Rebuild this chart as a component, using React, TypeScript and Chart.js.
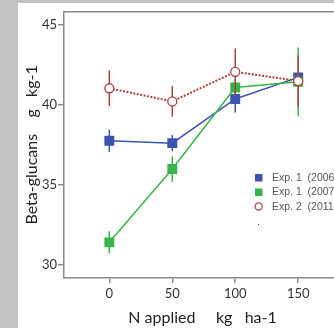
import React, { useEffect, useRef } from 'react';
import { Chart, registerables } from 'chart.js';

Chart.register(...registerables);

const nLevels = [0, 50, 100, 150];
const exp1_2006 = [37.77, 37.62, 40.38, 41.73];
const exp1_2006Err = [0.7, 0.5, 0.84, 0.3];
const exp1_2007 = [31.42, 36.0, 41.1, 41.45];
const exp1_2007Err = [0.7, 0.8, 0.5, 2.15];
const exp2_2011 = [41.05, 40.23, 42.08, 41.5];
const exp2_2011Err = [1.12, 0.95, 1.46, 1.6];
const seriesLabels = ['Exp. 1  (2006)', 'Exp. 1  (2007)', 'Exp. 2  (2011)'];
const xTicks = [0, 50, 100, 150];
const yTicks = [30, 35, 40, 45];

const BLUE = '#3B54B0';
const GREEN = '#38B449';
const RED = '#A8423E';
const AXIS = '#8a8a8a';

const errorBarPlugin = {
  id: 'errorBars',
  beforeDatasetDraw(chart: any, args: any) {
    const ds = chart.data.datasets[args.index];
    const errs = ds.errors as number[];
    if (!errs) return;
    const { ctx, scales } = chart;
    ctx.save();
    ctx.strokeStyle = ds.errColor;
    ctx.lineWidth = 1.5;
    ds.data.forEach((p: any, i: number) => {
      const x = scales.x.getPixelForValue(p.x);
      const y1 = scales.y.getPixelForValue(p.y - errs[i]);
      const y2 = scales.y.getPixelForValue(p.y + errs[i]);
      ctx.beginPath();
      ctx.moveTo(x, y1);
      ctx.lineTo(x, y2);
      ctx.stroke();
    });
    ctx.restore();
  },
};

const framePlugin = {
  id: 'frameTop',
  beforeDatasetsDraw(chart: any) {
    const { ctx, chartArea } = chart;
    ctx.save();
    ctx.strokeStyle = AXIS;
    ctx.lineWidth = 1.5;
    ctx.beginPath();
    ctx.moveTo(chartArea.left, chartArea.top);
    ctx.lineTo(chartArea.right, chartArea.top);
    ctx.stroke();
    ctx.restore();
  },
};

const legendPlugin = {
  id: 'customLegend',
  afterDraw(chart: any) {
    const { ctx } = chart;
    const x0 = 237;
    const y0 = 174.5;
    const gap = 14.5;
    ctx.save();
    ctx.font = '10.5px "Liberation Sans", Arial, sans-serif';
    ctx.textBaseline = 'middle';
    seriesLabels.forEach((t, i) => {
      const y = y0 + i * gap;
      if (i === 0 || i === 1) {
        ctx.fillStyle = i === 0 ? BLUE : GREEN;
        ctx.fillRect(x0, y - 3.5, 7.5, 7.5);
      } else {
        ctx.beginPath();
        ctx.strokeStyle = RED;
        ctx.lineWidth = 1.2;
        ctx.arc(x0 + 3.7, y, 3.6, 0, Math.PI * 2);
        ctx.stroke();
      }
      ctx.fillStyle = '#555555';
      ctx.fillText(t, x0 + 17, y + 0.5);
    });
    ctx.fillStyle = BLUE;
    ctx.fillRect(x0 + 3, y0 + 3 * gap + 3, 1, 1);
    ctx.restore();
  },
};

export default function App() {
  const ref = useRef<HTMLCanvasElement | null>(null);

  useEffect(() => {
    if (!ref.current) return;
    const mk = (vals: number[]) => nLevels.map((x, i) => ({ x, y: vals[i] }));
    const chart = new Chart(ref.current, {
      type: 'line',
      data: {
        datasets: [
          {
            label: seriesLabels[0],
            data: mk(exp1_2006),
            errors: exp1_2006Err,
            errColor: BLUE,
            borderColor: BLUE,
            backgroundColor: BLUE,
            borderWidth: 1.5,
            pointStyle: 'rect',
            pointRadius: 7,
            pointBorderWidth: 0,
            pointBackgroundColor: BLUE,
            order: 2,
          } as any,
          {
            label: seriesLabels[1],
            data: mk(exp1_2007),
            errors: exp1_2007Err,
            errColor: GREEN,
            borderColor: GREEN,
            backgroundColor: GREEN,
            borderWidth: 1.5,
            pointStyle: 'rect',
            pointRadius: 7,
            pointBorderWidth: 0,
            pointBackgroundColor: GREEN,
            order: 1,
          } as any,
          {
            label: seriesLabels[2],
            data: mk(exp2_2011),
            errors: exp2_2011Err,
            errColor: RED,
            borderColor: RED,
            backgroundColor: '#ffffff',
            borderWidth: 2,
            borderDash: [2, 1.5],
            pointStyle: 'circle',
            pointRadius: 4.5,
            pointBorderWidth: 1.3,
            pointBackgroundColor: '#ffffff',
            pointBorderColor: RED,
            order: 0,
          } as any,
        ],
      },
      options: {
        responsive: false,
        animation: false,
        layout: { padding: { left: 0, right: 0, top: 8, bottom: 0 } },
        plugins: {
          legend: { display: false },
          tooltip: { enabled: false },
        },
        scales: {
          x: {
            type: 'linear',
            min: -36,
            max: 184,
            afterBuildTicks: (s: any) => {
              s.ticks = xTicks.map((v) => ({ value: v }));
            },
            afterFit: (s: any) => {
              s.height = 50;
            },
            border: { color: AXIS, width: 1.5 },
            grid: { drawOnChartArea: false, drawTicks: true, tickLength: 5, color: AXIS, lineWidth: 1.5 },
            ticks: {
              padding: 3,
              color: '#333333',
              font: { family: 'Lato, "Open Sans", sans-serif', size: 13 },
              maxRotation: 0,
            },
            title: {
              display: true,
              text: 'N applied     kg   ha-1',
              color: '#222222',
              font: { family: 'Lato, "Open Sans", sans-serif', size: 16 },
              padding: { top: 0, bottom: 0.4 },
            },
          },
          y: {
            type: 'linear',
            min: 29.19,
            max: 45.83,
            afterBuildTicks: (s: any) => {
              s.ticks = yTicks.map((v) => ({ value: v }));
            },
            afterFit: (s: any) => {
              s.width = 46;
            },
            border: { color: AXIS, width: 1.5 },
            grid: { drawOnChartArea: false, drawTicks: true, tickLength: 6, color: AXIS, lineWidth: 1.5 },
            ticks: {
              padding: 1,
              color: '#333333',
              font: { family: 'Lato, "Open Sans", sans-serif', size: 13 },
            },
            title: {
              display: true,
              text: 'Beta-glucans    g   kg-1',
              color: '#222222',
              font: { family: 'Lato, "Open Sans", sans-serif', size: 16 },
              padding: { top: 4, bottom: 0 },
            },
          },
        },
      } as any,
      plugins: [errorBarPlugin, framePlugin, legendPlugin],
    });
    return () => chart.destroy();
  }, []);

  return (
    <div style={{ position: 'fixed', left: 0, top: 0, width: 334, height: 328, background: '#c3c3c3', overflow: 'hidden' }}>
      <div style={{ position: 'absolute', left: 18, top: 3, width: 330, height: 325, background: '#ffffff' }}>
        <canvas ref={ref} width={330} height={325} style={{ display: 'block', width: 330, height: 325 }} />
      </div>
    </div>
  );
}
